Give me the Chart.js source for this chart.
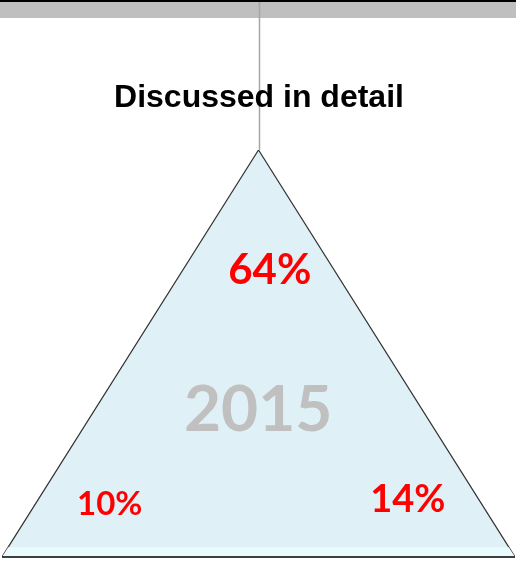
<!DOCTYPE html>
<html>
<head>
<meta charset="utf-8">
<script src="https://cdn.jsdelivr.net/npm/chart.js@4.4.0/dist/chart.umd.min.js"></script>
<style>
  html, body { margin: 0; padding: 0; background: #ffffff; }
  #wrap { width: 516px; height: 563px; }
</style>
</head>
<body>
<div id="wrap"><canvas id="triChart" width="516" height="563"></canvas></div>
<script>
// triangle outline (x, y in chart units)
const triX = [0, 0.5, 1, 0];
const triY = [0, 1, 0, 0];

const chartTitle = 'Discussed in detail';
const yearLabel = '2015';
const shareNames = ['top', 'left', 'right'];
const shareValues = [64, 10, 14];

const points = triX.map(function (x, i) { return { x: x, y: triY[i] }; });

const decorPlugin = {
    id: 'decor',
    beforeDraw: function (chart) {
        const ctx = chart.ctx;
        const xs = chart.scales.x, ys = chart.scales.y;
        ctx.save();
        // top band
        ctx.fillStyle = '#000000';
        ctx.fillRect(0, 0, chart.width, 2);
        ctx.fillStyle = '#bfbfbf';
        ctx.fillRect(0, 2, chart.width, 16);
        // connector line from the top to the apex
        ctx.strokeStyle = '#a6a6a6';
        ctx.lineWidth = 1.5;
        ctx.beginPath();
        ctx.moveTo(xs.getPixelForValue(0.5) + 1, 2);
        ctx.lineTo(xs.getPixelForValue(0.5) + 1, ys.getPixelForValue(1));
        ctx.stroke();
        ctx.restore();
    },
    beforeDatasetsDraw: function (chart) {
        // fill the triangle from the dataset's own points
        const ctx = chart.ctx;
        const pts = chart.getDatasetMeta(0).data;
        ctx.save();
        ctx.fillStyle = '#dff0f6';
        ctx.beginPath();
        pts.forEach(function (p, i) {
            if (i === 0) ctx.moveTo(p.x, p.y); else ctx.lineTo(p.x, p.y);
        });
        ctx.closePath();
        ctx.fill();
        ctx.restore();
    },
    afterDatasetsDraw: function (chart) {
        const ctx = chart.ctx;
        const xs = chart.scales.x, ys = chart.scales.y;
        ctx.save();
        // lighter strip along the base
        ctx.fillStyle = '#e9fbfc';
        const yb = ys.getPixelForValue(0);
        const ys2 = ys.getPixelForValue(0.024);
        const k = 0.024 / 2;
        ctx.beginPath();
        ctx.moveTo(xs.getPixelForValue(k), ys2);
        ctx.lineTo(xs.getPixelForValue(1 - k), ys2);
        ctx.lineTo(xs.getPixelForValue(1), yb);
        ctx.lineTo(xs.getPixelForValue(0), yb);
        ctx.closePath();
        ctx.fill();
        ctx.strokeStyle = '#000000';
        ctx.lineWidth = 1.5;
        ctx.beginPath();
        ctx.moveTo(xs.getPixelForValue(0), yb);
        ctx.lineTo(xs.getPixelForValue(1), yb);
        ctx.stroke();

        ctx.textAlign = 'center';
        ctx.textBaseline = 'middle';
        // title
        ctx.fillStyle = '#000000';
        ctx.font = 'bold 32px "Liberation Sans", Arial, sans-serif';
        ctx.fillText(chartTitle, 259, 98);
        // year
        ctx.fillStyle = '#c0c0c0';
        ctx.font = 'bold 64px Lato, "Open Sans", sans-serif';
        ctx.fillText(yearLabel, xs.getPixelForValue(0.4995), ys.getPixelForValue(0.36));
        // shares
        ctx.fillStyle = '#ff0000';
        const spots = {
            top: { x: 0.522, y: 0.705, size: 42 },
            left: { x: 0.21, y: 0.13, size: 33 },
            right: { x: 0.791, y: 0.14, size: 38 }
        };
        shareNames.forEach(function (n, i) {
            const s = spots[n];
            ctx.font = 'bold ' + s.size + 'px Lato, "Open Sans", sans-serif';
            ctx.fillText(shareValues[i] + '%', xs.getPixelForValue(s.x), ys.getPixelForValue(s.y));
        });
        ctx.restore();
    }
};

const data = {
    datasets: [{
        data: points,
        showLine: true,
        fill: false,
        borderColor: '#333333',
        borderWidth: 1.2,
        pointRadius: 0,
        tension: 0
    }]
};

const config = {
    type: 'scatter',
    data: data,
    options: {
        responsive: false,
        animation: false,
        layout: {
            padding: { left: 2, right: 1, top: 150, bottom: 6 }
        },
        scales: {
            x: { type: 'linear', min: 0, max: 1, display: false },
            y: { type: 'linear', min: 0, max: 1, display: false }
        },
        plugins: {
            legend: { display: false },
            tooltip: { enabled: false }
        }
    },
    plugins: [decorPlugin]
};

const myChart = new Chart(document.getElementById('triChart'), config);
</script>
</body>
</html>
